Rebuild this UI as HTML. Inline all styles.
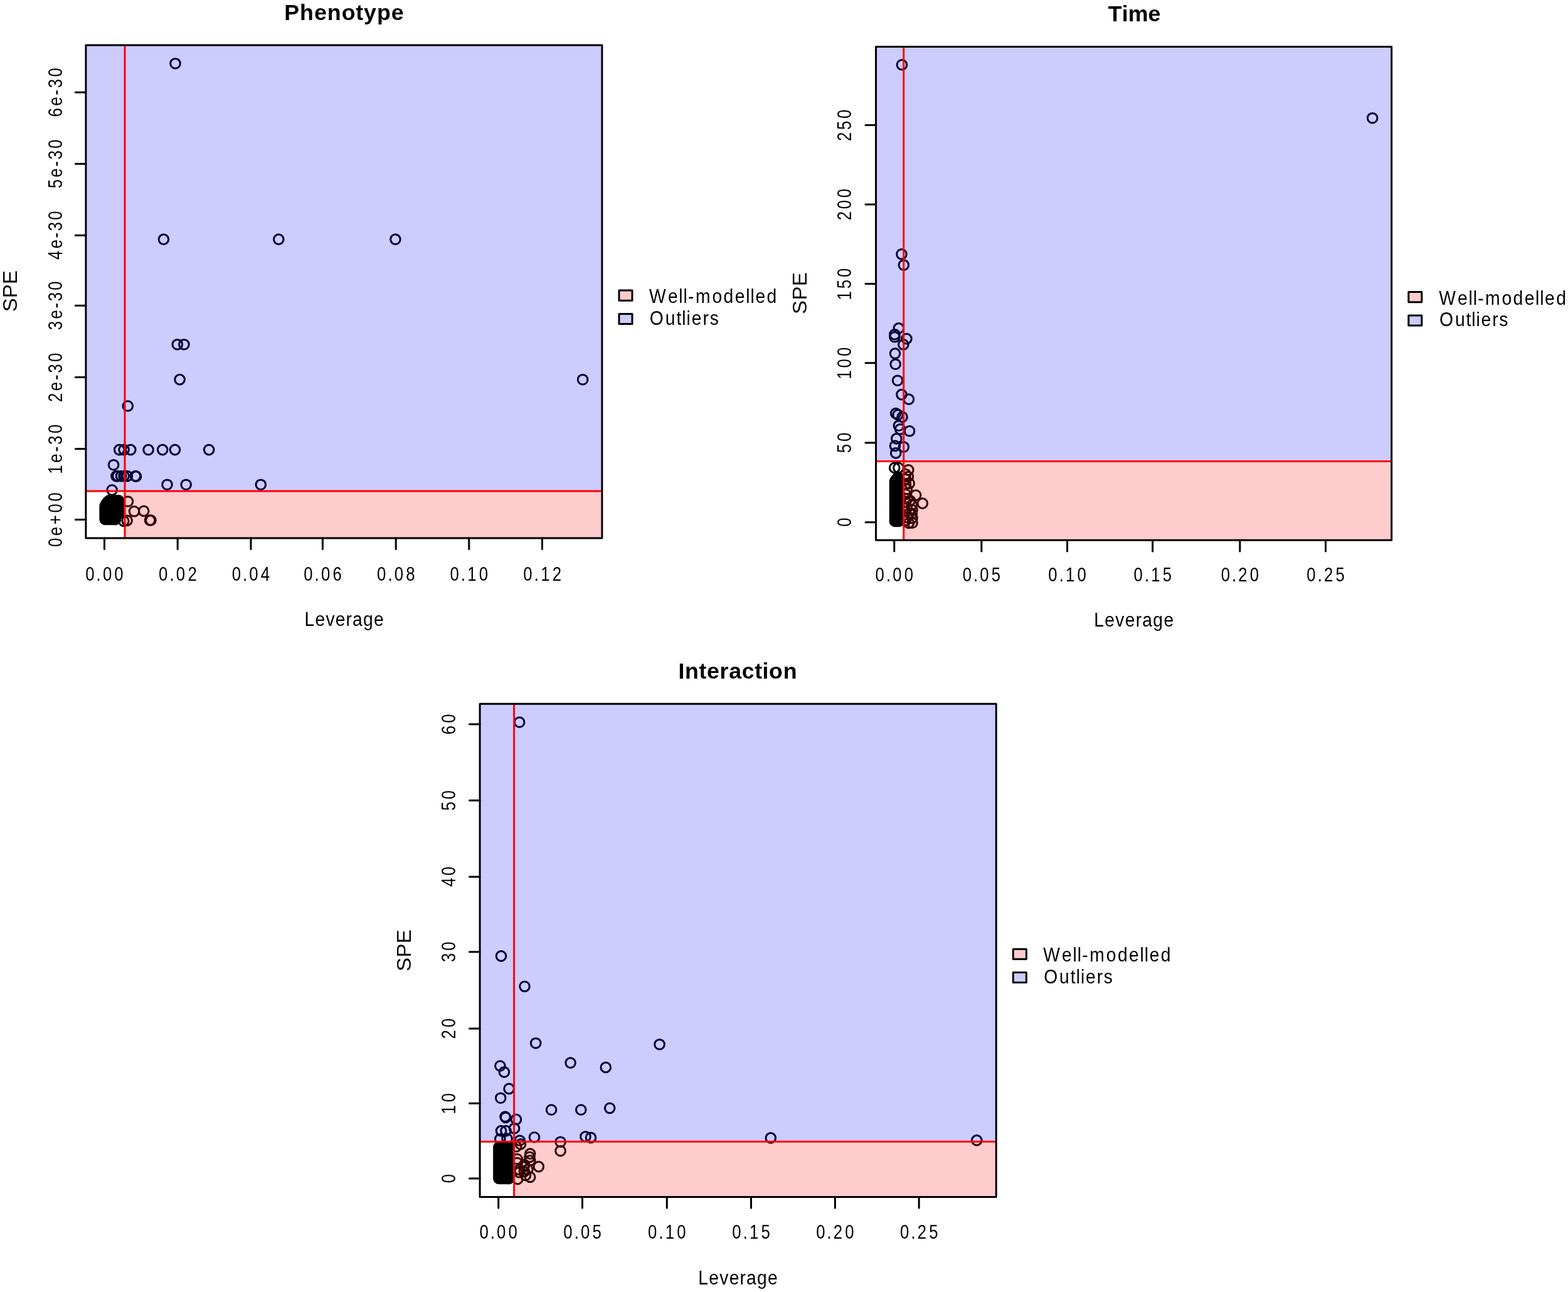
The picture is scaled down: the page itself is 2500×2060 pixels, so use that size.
<!DOCTYPE html><html><head><meta charset="utf-8"><title>SPE vs Leverage diagnostics</title>
<style>html,body{margin:0;padding:0;background:#fff;overflow:hidden;}svg{display:block;}text{font-family:'Liberation Sans', Arial, Helvetica, sans-serif;fill:#000;}</style></head><body>
<svg width="2500" height="2060" viewBox="0 0 2500 2060">
<rect width="2500" height="2060" fill="#fff"/>
<g>
<clipPath id="c0"><rect x="136.9" y="72.1" width="823" height="785.8"/></clipPath>
<g clip-path="url(#c0)">
<g fill="none" stroke="#000" stroke-width="3"><circle cx="279.5" cy="101.2" r="7.8"/><circle cx="260.9" cy="381.6" r="7.8"/><circle cx="444.3" cy="381.6" r="7.8"/><circle cx="630.4" cy="381.6" r="7.8"/><circle cx="282.8" cy="549.2" r="7.8"/><circle cx="293.4" cy="549.2" r="7.8"/><circle cx="286.6" cy="605.1" r="7.8"/><circle cx="929.1" cy="605.2" r="7.8"/><circle cx="203.8" cy="647.3" r="7.8"/><circle cx="190.2" cy="717.1" r="7.8"/><circle cx="197.6" cy="717.1" r="7.8"/><circle cx="208.3" cy="717.1" r="7.8"/><circle cx="236.6" cy="717.1" r="7.8"/><circle cx="259.2" cy="717.1" r="7.8"/><circle cx="279" cy="717.1" r="7.8"/><circle cx="333.2" cy="717.1" r="7.8"/><circle cx="181.1" cy="741.2" r="7.8"/><circle cx="185.5" cy="759.1" r="7.8"/><circle cx="187.5" cy="759.1" r="7.8"/><circle cx="193" cy="759.1" r="7.8"/><circle cx="197.6" cy="759.1" r="7.8"/><circle cx="202.8" cy="759.1" r="7.8"/><circle cx="216" cy="759.1" r="7.8"/><circle cx="217" cy="759.6" r="7.8"/><circle cx="266.5" cy="772.7" r="7.8"/><circle cx="296.7" cy="772.7" r="7.8"/><circle cx="415.8" cy="772.7" r="7.8"/><circle cx="178.6" cy="781.3" r="7.8"/><circle cx="204" cy="799.5" r="7.8"/><circle cx="214" cy="815.3" r="7.8"/><circle cx="229.2" cy="814.8" r="7.8"/><circle cx="238.9" cy="829.5" r="7.8"/><circle cx="240.5" cy="829.5" r="7.8"/><circle cx="197.3" cy="830.8" r="7.8"/><circle cx="202.6" cy="829.9" r="7.8"/><circle cx="174" cy="798" r="7.8"/><circle cx="177" cy="798" r="7.8"/><circle cx="180" cy="798" r="7.8"/><circle cx="183" cy="798" r="7.8"/><circle cx="186" cy="798" r="7.8"/><circle cx="189" cy="798" r="7.8"/><circle cx="171" cy="801" r="7.8"/><circle cx="174" cy="801" r="7.8"/><circle cx="177" cy="801" r="7.8"/><circle cx="180" cy="801" r="7.8"/><circle cx="183" cy="801" r="7.8"/><circle cx="186" cy="801" r="7.8"/><circle cx="189" cy="801" r="7.8"/><circle cx="169" cy="804" r="7.8"/><circle cx="172" cy="804" r="7.8"/><circle cx="175" cy="804" r="7.8"/><circle cx="178" cy="804" r="7.8"/><circle cx="181" cy="804" r="7.8"/><circle cx="184" cy="804" r="7.8"/><circle cx="187" cy="804" r="7.8"/><circle cx="189" cy="804" r="7.8"/><circle cx="167.7" cy="807" r="7.8"/><circle cx="170.7" cy="807" r="7.8"/><circle cx="173.7" cy="807" r="7.8"/><circle cx="176.7" cy="807" r="7.8"/><circle cx="179.7" cy="807" r="7.8"/><circle cx="182.7" cy="807" r="7.8"/><circle cx="185.7" cy="807" r="7.8"/><circle cx="188.7" cy="807" r="7.8"/><circle cx="167.7" cy="810" r="7.8"/><circle cx="170.7" cy="810" r="7.8"/><circle cx="173.7" cy="810" r="7.8"/><circle cx="176.7" cy="810" r="7.8"/><circle cx="179.7" cy="810" r="7.8"/><circle cx="182.7" cy="810" r="7.8"/><circle cx="185.7" cy="810" r="7.8"/><circle cx="188.7" cy="810" r="7.8"/><circle cx="167.7" cy="813" r="7.8"/><circle cx="170.7" cy="813" r="7.8"/><circle cx="173.7" cy="813" r="7.8"/><circle cx="176.7" cy="813" r="7.8"/><circle cx="179.7" cy="813" r="7.8"/><circle cx="182.7" cy="813" r="7.8"/><circle cx="185.7" cy="813" r="7.8"/><circle cx="188.7" cy="813" r="7.8"/><circle cx="167.7" cy="816" r="7.8"/><circle cx="170.7" cy="816" r="7.8"/><circle cx="173.7" cy="816" r="7.8"/><circle cx="176.7" cy="816" r="7.8"/><circle cx="179.7" cy="816" r="7.8"/><circle cx="182.7" cy="816" r="7.8"/><circle cx="185.7" cy="816" r="7.8"/><circle cx="188.7" cy="816" r="7.8"/><circle cx="167.7" cy="819" r="7.8"/><circle cx="170.7" cy="819" r="7.8"/><circle cx="173.7" cy="819" r="7.8"/><circle cx="176.7" cy="819" r="7.8"/><circle cx="179.7" cy="819" r="7.8"/><circle cx="182.7" cy="819" r="7.8"/><circle cx="185.7" cy="819" r="7.8"/><circle cx="188.7" cy="819" r="7.8"/><circle cx="167.7" cy="822" r="7.8"/><circle cx="170.7" cy="822" r="7.8"/><circle cx="173.7" cy="822" r="7.8"/><circle cx="176.7" cy="822" r="7.8"/><circle cx="179.7" cy="822" r="7.8"/><circle cx="182.7" cy="822" r="7.8"/><circle cx="184" cy="822" r="7.8"/><circle cx="167.7" cy="825" r="7.8"/><circle cx="170.7" cy="825" r="7.8"/><circle cx="173.7" cy="825" r="7.8"/><circle cx="176.7" cy="825" r="7.8"/><circle cx="179.7" cy="825" r="7.8"/><circle cx="182.7" cy="825" r="7.8"/><circle cx="184" cy="825" r="7.8"/><circle cx="167.7" cy="828" r="7.8"/><circle cx="170.7" cy="828" r="7.8"/><circle cx="173.7" cy="828" r="7.8"/><circle cx="176.7" cy="828" r="7.8"/><circle cx="179.7" cy="828" r="7.8"/><circle cx="182.7" cy="828" r="7.8"/><circle cx="184" cy="828" r="7.8"/></g>
<rect x="136.9" y="72.1" width="823" height="710.8" fill="#00f" fill-opacity="0.2"/>
<rect x="199" y="782.9" width="760.9" height="75" fill="#f00" fill-opacity="0.2"/>
<path d="M136.9 782.9H959.9M199 72.1V857.9" stroke="#f00" stroke-width="3" fill="none"/>
</g>
<rect x="136.9" y="72.1" width="823" height="785.8" fill="none" stroke="#000" stroke-width="3" stroke-linejoin="round"/>
<path d="M166.45 857.9V875.5M283.2 857.9V875.5M400 857.9V875.5M514.4 857.9V875.5M631.2 857.9V875.5M747.8 857.9V875.5M864.5 857.9V875.5M136.9 828.6H120.3M136.9 715.7H120.3M136.9 601.6H120.3M136.9 487.3H120.3M136.9 375.3H120.3M136.9 261.3H120.3M136.9 147.2H120.3" stroke="#000" stroke-width="3" stroke-linecap="round" fill="none"/>
<rect x="987" y="463.1" width="21" height="16.1" fill="#ffcccc" stroke="#000" stroke-width="3" stroke-linejoin="round"/>
<rect x="987" y="500.4" width="21" height="16.1" fill="#ccccff" stroke="#000" stroke-width="3" stroke-linejoin="round"/>
</g>
<g>
<clipPath id="c1"><rect x="1396.6" y="74.6" width="822.1" height="786.7"/></clipPath>
<g clip-path="url(#c1)">
<g fill="none" stroke="#000" stroke-width="3"><circle cx="1438" cy="103.3" r="7.8"/><circle cx="2188.2" cy="188.2" r="7.8"/><circle cx="1437.5" cy="405.3" r="7.8"/><circle cx="1440.9" cy="422.6" r="7.8"/><circle cx="1432.9" cy="523.4" r="7.8"/><circle cx="1426.5" cy="533.2" r="7.8"/><circle cx="1426.5" cy="537.3" r="7.8"/><circle cx="1445.5" cy="540.1" r="7.8"/><circle cx="1440.4" cy="549.4" r="7.8"/><circle cx="1427.1" cy="563.6" r="7.8"/><circle cx="1427.7" cy="580.7" r="7.8"/><circle cx="1431.1" cy="606.7" r="7.8"/><circle cx="1437.5" cy="629.1" r="7.8"/><circle cx="1449" cy="636.6" r="7.8"/><circle cx="1428.3" cy="659.1" r="7.8"/><circle cx="1431.7" cy="661.4" r="7.8"/><circle cx="1438.6" cy="664.8" r="7.8"/><circle cx="1432.9" cy="678.7" r="7.8"/><circle cx="1435.2" cy="684.4" r="7.8"/><circle cx="1450.1" cy="687.3" r="7.8"/><circle cx="1429.4" cy="699.4" r="7.8"/><circle cx="1427.1" cy="710.9" r="7.8"/><circle cx="1440.9" cy="712.6" r="7.8"/><circle cx="1428.3" cy="722.4" r="7.8"/><circle cx="1426.3" cy="745.9" r="7.8"/><circle cx="1432.5" cy="745.9" r="7.8"/><circle cx="1448.4" cy="749.4" r="7.8"/><circle cx="1449.8" cy="770.8" r="7.8"/><circle cx="1460.2" cy="789.5" r="7.8"/><circle cx="1470.9" cy="802.6" r="7.8"/><circle cx="1453.9" cy="804.7" r="7.8"/><circle cx="1454.6" cy="813" r="7.8"/><circle cx="1453.9" cy="819.2" r="7.8"/><circle cx="1454.6" cy="826.1" r="7.8"/><circle cx="1454.6" cy="833.7" r="7.8"/><circle cx="1448" cy="760" r="7.8"/><circle cx="1446" cy="780" r="7.8"/><circle cx="1447" cy="795" r="7.8"/><circle cx="1446" cy="810" r="7.8"/><circle cx="1446" cy="825" r="7.8"/><circle cx="1444" cy="756" r="7.8"/><circle cx="1444" cy="764" r="7.8"/><circle cx="1444" cy="772" r="7.8"/><circle cx="1444" cy="788" r="7.8"/><circle cx="1444" cy="800" r="7.8"/><circle cx="1444" cy="816" r="7.8"/><circle cx="1444" cy="830" r="7.8"/><circle cx="1449" cy="834" r="7.8"/><circle cx="1450" cy="818" r="7.8"/><circle cx="1451" cy="798" r="7.8"/><circle cx="1431" cy="762" r="7.8"/><circle cx="1433" cy="762" r="7.8"/><circle cx="1428.5" cy="765" r="7.8"/><circle cx="1431.5" cy="765" r="7.8"/><circle cx="1433" cy="765" r="7.8"/><circle cx="1427" cy="768" r="7.8"/><circle cx="1430" cy="768" r="7.8"/><circle cx="1433" cy="768" r="7.8"/><circle cx="1427" cy="771" r="7.8"/><circle cx="1430" cy="771" r="7.8"/><circle cx="1433" cy="771" r="7.8"/><circle cx="1427" cy="774" r="7.8"/><circle cx="1430" cy="774" r="7.8"/><circle cx="1433" cy="774" r="7.8"/><circle cx="1427" cy="777" r="7.8"/><circle cx="1430" cy="777" r="7.8"/><circle cx="1433" cy="777" r="7.8"/><circle cx="1427" cy="780" r="7.8"/><circle cx="1430" cy="780" r="7.8"/><circle cx="1433" cy="780" r="7.8"/><circle cx="1427" cy="783" r="7.8"/><circle cx="1430" cy="783" r="7.8"/><circle cx="1433" cy="783" r="7.8"/><circle cx="1427" cy="786" r="7.8"/><circle cx="1430" cy="786" r="7.8"/><circle cx="1433" cy="786" r="7.8"/><circle cx="1427" cy="789" r="7.8"/><circle cx="1430" cy="789" r="7.8"/><circle cx="1433" cy="789" r="7.8"/><circle cx="1427" cy="792" r="7.8"/><circle cx="1430" cy="792" r="7.8"/><circle cx="1433" cy="792" r="7.8"/><circle cx="1427" cy="795" r="7.8"/><circle cx="1430" cy="795" r="7.8"/><circle cx="1433" cy="795" r="7.8"/><circle cx="1427" cy="798" r="7.8"/><circle cx="1430" cy="798" r="7.8"/><circle cx="1433" cy="798" r="7.8"/><circle cx="1427" cy="801" r="7.8"/><circle cx="1430" cy="801" r="7.8"/><circle cx="1433" cy="801" r="7.8"/><circle cx="1427" cy="804" r="7.8"/><circle cx="1430" cy="804" r="7.8"/><circle cx="1433" cy="804" r="7.8"/><circle cx="1427" cy="807" r="7.8"/><circle cx="1430" cy="807" r="7.8"/><circle cx="1433" cy="807" r="7.8"/><circle cx="1427" cy="810" r="7.8"/><circle cx="1430" cy="810" r="7.8"/><circle cx="1433" cy="810" r="7.8"/><circle cx="1427" cy="813" r="7.8"/><circle cx="1430" cy="813" r="7.8"/><circle cx="1433" cy="813" r="7.8"/><circle cx="1427" cy="816" r="7.8"/><circle cx="1430" cy="816" r="7.8"/><circle cx="1433" cy="816" r="7.8"/><circle cx="1427" cy="819" r="7.8"/><circle cx="1430" cy="819" r="7.8"/><circle cx="1433" cy="819" r="7.8"/><circle cx="1427" cy="822" r="7.8"/><circle cx="1430" cy="822" r="7.8"/><circle cx="1433" cy="822" r="7.8"/><circle cx="1427" cy="825" r="7.8"/><circle cx="1430" cy="825" r="7.8"/><circle cx="1433" cy="825" r="7.8"/><circle cx="1427" cy="828" r="7.8"/><circle cx="1430" cy="828" r="7.8"/><circle cx="1433" cy="828" r="7.8"/><circle cx="1427" cy="831" r="7.8"/><circle cx="1430" cy="831" r="7.8"/><circle cx="1433" cy="831" r="7.8"/></g>
<rect x="1396.6" y="74.6" width="822.1" height="660.8" fill="#00f" fill-opacity="0.2"/>
<rect x="1440.8" y="735.4" width="777.9" height="125.9" fill="#f00" fill-opacity="0.2"/>
<path d="M1396.6 735.4H2218.7M1440.8 74.6V861.3" stroke="#f00" stroke-width="3" fill="none"/>
</g>
<rect x="1396.6" y="74.6" width="822.1" height="786.7" fill="none" stroke="#000" stroke-width="3" stroke-linejoin="round"/>
<path d="M1425.8 861.3V878.9M1564.9 861.3V878.9M1701.6 861.3V878.9M1837.7 861.3V878.9M1976.9 861.3V878.9M2113.6 861.3V878.9M1396.6 832.7H1380M1396.6 706H1380M1396.6 578.7H1380M1396.6 452.6H1380M1396.6 325.9H1380M1396.6 199.6H1380" stroke="#000" stroke-width="3" stroke-linecap="round" fill="none"/>
<rect x="2245.8" y="465.6" width="21" height="16.1" fill="#ffcccc" stroke="#000" stroke-width="3" stroke-linejoin="round"/>
<rect x="2245.8" y="502.9" width="21" height="16.1" fill="#ccccff" stroke="#000" stroke-width="3" stroke-linejoin="round"/>
</g>
<g>
<clipPath id="c2"><rect x="765.1" y="1122.2" width="823.2" height="786.3"/></clipPath>
<g clip-path="url(#c2)">
<g fill="none" stroke="#000" stroke-width="3"><circle cx="828.2" cy="1151.5" r="7.8"/><circle cx="799" cy="1524.4" r="7.8"/><circle cx="836.5" cy="1572.8" r="7.8"/><circle cx="854.2" cy="1663.2" r="7.8"/><circle cx="1051.6" cy="1665.2" r="7.8"/><circle cx="909.6" cy="1694.6" r="7.8"/><circle cx="965.8" cy="1701.9" r="7.8"/><circle cx="797.4" cy="1699.5" r="7.8"/><circle cx="803.9" cy="1709.4" r="7.8"/><circle cx="811.6" cy="1735.9" r="7.8"/><circle cx="798.2" cy="1750.7" r="7.8"/><circle cx="879.1" cy="1769.5" r="7.8"/><circle cx="926.3" cy="1769.5" r="7.8"/><circle cx="972.2" cy="1766.8" r="7.8"/><circle cx="806.2" cy="1781.8" r="7.8"/><circle cx="805.5" cy="1780.5" r="7.8"/><circle cx="823" cy="1784.9" r="7.8"/><circle cx="799" cy="1803.1" r="7.8"/><circle cx="806.5" cy="1803.1" r="7.8"/><circle cx="820.1" cy="1799.1" r="7.8"/><circle cx="852" cy="1813.3" r="7.8"/><circle cx="933.5" cy="1812.2" r="7.8"/><circle cx="942" cy="1813.9" r="7.8"/><circle cx="828.7" cy="1818.5" r="7.8"/><circle cx="893.6" cy="1820.7" r="7.8"/><circle cx="797.3" cy="1816.2" r="7.8"/><circle cx="1228.8" cy="1814.4" r="7.8"/><circle cx="1557.3" cy="1818.1" r="7.8"/><circle cx="893.6" cy="1835" r="7.8"/><circle cx="830" cy="1824.4" r="7.8"/><circle cx="845.2" cy="1839.6" r="7.8"/><circle cx="844.4" cy="1844.9" r="7.8"/><circle cx="845.2" cy="1850.2" r="7.8"/><circle cx="858.8" cy="1860.1" r="7.8"/><circle cx="824.7" cy="1848" r="7.8"/><circle cx="824.7" cy="1854" r="7.8"/><circle cx="836" cy="1857.1" r="7.8"/><circle cx="825.4" cy="1879.9" r="7.8"/><circle cx="845.2" cy="1876.8" r="7.8"/><circle cx="827.7" cy="1869.2" r="7.8"/><circle cx="841.4" cy="1864.7" r="7.8"/><circle cx="823.2" cy="1828.2" r="7.8"/><circle cx="808.5" cy="1815.5" r="7.8"/><circle cx="828" cy="1865" r="7.8"/><circle cx="836" cy="1868" r="7.8"/><circle cx="838" cy="1874" r="7.8"/><circle cx="835.3" cy="1860.5" r="7.8"/><circle cx="795.5" cy="1829" r="7.8"/><circle cx="798.5" cy="1829" r="7.8"/><circle cx="801.5" cy="1829" r="7.8"/><circle cx="804.5" cy="1829" r="7.8"/><circle cx="807.5" cy="1829" r="7.8"/><circle cx="810.5" cy="1829" r="7.8"/><circle cx="811.5" cy="1829" r="7.8"/><circle cx="795.5" cy="1832" r="7.8"/><circle cx="798.5" cy="1832" r="7.8"/><circle cx="801.5" cy="1832" r="7.8"/><circle cx="804.5" cy="1832" r="7.8"/><circle cx="807.5" cy="1832" r="7.8"/><circle cx="810.5" cy="1832" r="7.8"/><circle cx="811.5" cy="1832" r="7.8"/><circle cx="795.5" cy="1835" r="7.8"/><circle cx="798.5" cy="1835" r="7.8"/><circle cx="801.5" cy="1835" r="7.8"/><circle cx="804.5" cy="1835" r="7.8"/><circle cx="807.5" cy="1835" r="7.8"/><circle cx="810.5" cy="1835" r="7.8"/><circle cx="811.5" cy="1835" r="7.8"/><circle cx="795.5" cy="1838" r="7.8"/><circle cx="798.5" cy="1838" r="7.8"/><circle cx="801.5" cy="1838" r="7.8"/><circle cx="804.5" cy="1838" r="7.8"/><circle cx="807.5" cy="1838" r="7.8"/><circle cx="810.5" cy="1838" r="7.8"/><circle cx="811.5" cy="1838" r="7.8"/><circle cx="795.5" cy="1841" r="7.8"/><circle cx="798.5" cy="1841" r="7.8"/><circle cx="801.5" cy="1841" r="7.8"/><circle cx="804.5" cy="1841" r="7.8"/><circle cx="807.5" cy="1841" r="7.8"/><circle cx="810.5" cy="1841" r="7.8"/><circle cx="811.5" cy="1841" r="7.8"/><circle cx="795.5" cy="1844" r="7.8"/><circle cx="798.5" cy="1844" r="7.8"/><circle cx="801.5" cy="1844" r="7.8"/><circle cx="804.5" cy="1844" r="7.8"/><circle cx="807.5" cy="1844" r="7.8"/><circle cx="810.5" cy="1844" r="7.8"/><circle cx="811.5" cy="1844" r="7.8"/><circle cx="795.5" cy="1847" r="7.8"/><circle cx="798.5" cy="1847" r="7.8"/><circle cx="801.5" cy="1847" r="7.8"/><circle cx="804.5" cy="1847" r="7.8"/><circle cx="807.5" cy="1847" r="7.8"/><circle cx="810.5" cy="1847" r="7.8"/><circle cx="811.5" cy="1847" r="7.8"/><circle cx="795.5" cy="1850" r="7.8"/><circle cx="798.5" cy="1850" r="7.8"/><circle cx="801.5" cy="1850" r="7.8"/><circle cx="804.5" cy="1850" r="7.8"/><circle cx="807.5" cy="1850" r="7.8"/><circle cx="810.5" cy="1850" r="7.8"/><circle cx="811.5" cy="1850" r="7.8"/><circle cx="795.5" cy="1853" r="7.8"/><circle cx="798.5" cy="1853" r="7.8"/><circle cx="801.5" cy="1853" r="7.8"/><circle cx="804.5" cy="1853" r="7.8"/><circle cx="807.5" cy="1853" r="7.8"/><circle cx="810.5" cy="1853" r="7.8"/><circle cx="811.5" cy="1853" r="7.8"/><circle cx="795.5" cy="1856" r="7.8"/><circle cx="798.5" cy="1856" r="7.8"/><circle cx="801.5" cy="1856" r="7.8"/><circle cx="804.5" cy="1856" r="7.8"/><circle cx="807.5" cy="1856" r="7.8"/><circle cx="810.5" cy="1856" r="7.8"/><circle cx="811.5" cy="1856" r="7.8"/><circle cx="795.5" cy="1859" r="7.8"/><circle cx="798.5" cy="1859" r="7.8"/><circle cx="801.5" cy="1859" r="7.8"/><circle cx="804.5" cy="1859" r="7.8"/><circle cx="807.5" cy="1859" r="7.8"/><circle cx="810.5" cy="1859" r="7.8"/><circle cx="811.5" cy="1859" r="7.8"/><circle cx="795.5" cy="1862" r="7.8"/><circle cx="798.5" cy="1862" r="7.8"/><circle cx="801.5" cy="1862" r="7.8"/><circle cx="804.5" cy="1862" r="7.8"/><circle cx="807.5" cy="1862" r="7.8"/><circle cx="810.5" cy="1862" r="7.8"/><circle cx="811.5" cy="1862" r="7.8"/><circle cx="795.5" cy="1865" r="7.8"/><circle cx="798.5" cy="1865" r="7.8"/><circle cx="801.5" cy="1865" r="7.8"/><circle cx="804.5" cy="1865" r="7.8"/><circle cx="807.5" cy="1865" r="7.8"/><circle cx="810.5" cy="1865" r="7.8"/><circle cx="811.5" cy="1865" r="7.8"/><circle cx="795.5" cy="1868" r="7.8"/><circle cx="798.5" cy="1868" r="7.8"/><circle cx="801.5" cy="1868" r="7.8"/><circle cx="804.5" cy="1868" r="7.8"/><circle cx="807.5" cy="1868" r="7.8"/><circle cx="810.5" cy="1868" r="7.8"/><circle cx="811.5" cy="1868" r="7.8"/><circle cx="795.5" cy="1871" r="7.8"/><circle cx="798.5" cy="1871" r="7.8"/><circle cx="801.5" cy="1871" r="7.8"/><circle cx="804.5" cy="1871" r="7.8"/><circle cx="807.5" cy="1871" r="7.8"/><circle cx="810.5" cy="1871" r="7.8"/><circle cx="811.5" cy="1871" r="7.8"/><circle cx="795.5" cy="1874" r="7.8"/><circle cx="798.5" cy="1874" r="7.8"/><circle cx="801.5" cy="1874" r="7.8"/><circle cx="804.5" cy="1874" r="7.8"/><circle cx="807.5" cy="1874" r="7.8"/><circle cx="810.5" cy="1874" r="7.8"/><circle cx="811.5" cy="1874" r="7.8"/><circle cx="795.5" cy="1877" r="7.8"/><circle cx="798.5" cy="1877" r="7.8"/><circle cx="801.5" cy="1877" r="7.8"/><circle cx="804.5" cy="1877" r="7.8"/><circle cx="807.5" cy="1877" r="7.8"/><circle cx="810.5" cy="1877" r="7.8"/><circle cx="811.5" cy="1877" r="7.8"/><circle cx="795.5" cy="1879" r="7.8"/><circle cx="798.5" cy="1879" r="7.8"/><circle cx="801.5" cy="1879" r="7.8"/><circle cx="804.5" cy="1879" r="7.8"/><circle cx="807.5" cy="1879" r="7.8"/><circle cx="810.5" cy="1879" r="7.8"/><circle cx="811.5" cy="1879" r="7.8"/></g>
<rect x="765.1" y="1122.2" width="823.2" height="698" fill="#00f" fill-opacity="0.2"/>
<rect x="819.6" y="1820.2" width="768.7" height="88.3" fill="#f00" fill-opacity="0.2"/>
<path d="M765.1 1820.2H1588.3M819.6 1122.2V1908.5" stroke="#f00" stroke-width="3" fill="none"/>
</g>
<rect x="765.1" y="1122.2" width="823.2" height="786.3" fill="none" stroke="#000" stroke-width="3" stroke-linejoin="round"/>
<path d="M794.7 1908.5V1926.1M928.5 1908.5V1926.1M1063.3 1908.5V1926.1M1197.5 1908.5V1926.1M1331.4 1908.5V1926.1M1465.2 1908.5V1926.1M765.1 1879H748.5M765.1 1759.2H748.5M765.1 1639.9H748.5M765.1 1517.7H748.5M765.1 1398H748.5M765.1 1276.3H748.5M765.1 1154.7H748.5" stroke="#000" stroke-width="3" stroke-linecap="round" fill="none"/>
<rect x="1615.4" y="1513.2" width="21" height="16.1" fill="#ffcccc" stroke="#000" stroke-width="3" stroke-linejoin="round"/>
<rect x="1615.4" y="1550.5" width="21" height="16.1" fill="#ccccff" stroke="#000" stroke-width="3" stroke-linejoin="round"/>
</g>
<text transform="translate(0 31.7) scale(1 1)" x="453.21 478.12 500.95 521.82 544.7 567.35 580 600.9 623.71" font-size="35.8" font-weight="bold">Phenotype</text>
<text transform="translate(0 925.9) scale(0.82 1)" x="166.09 187.35 199.85 222.37" font-size="31.5">0.00</text>
<text transform="translate(0 925.9) scale(0.82 1)" x="308.46 329.84 342.44 365.1" font-size="31.5">0.02</text>
<text transform="translate(0 925.9) scale(0.82 1)" x="450.9 472.09 484.5 506.88" font-size="31.5">0.04</text>
<text transform="translate(0 925.9) scale(0.82 1)" x="590.42 611.72 624.26 646.85" font-size="31.5">0.06</text>
<text transform="translate(0 925.9) scale(0.82 1)" x="732.85 754.16 766.7 789.28" font-size="31.5">0.08</text>
<text transform="translate(0 925.9) scale(0.82 1)" x="875.05 896.32 908.94 931.33" font-size="31.5">0.10</text>
<text transform="translate(0 925.9) scale(0.82 1)" x="1017.37 1038.74 1051.47 1074" font-size="31.5">0.12</text>
<text transform="translate(0 997.6) scale(0.9 1)" x="539.42 558.26 577.1 594.17 612.86 624.45 643.28 662.21" font-size="31.5">Leverage</text>
<text transform="translate(98.7 871.1) rotate(-90) scale(0.82 1)" x="-1.23 20.64 42.63 65.49 87.37" font-size="31.5">0e+00</text>
<text transform="translate(98.7 753.7) rotate(-90) scale(0.82 1)" x="-2.4 19.41 40.46 54.45 76.39" font-size="31.5">1e-30</text>
<text transform="translate(98.7 639.6) rotate(-90) scale(0.82 1)" x="-1.58 20.08 40.92 54.7 76.39" font-size="31.5">2e-30</text>
<text transform="translate(98.7 525.3) rotate(-90) scale(0.82 1)" x="-1.2 20.37 41.12 54.82 76.39" font-size="31.5">3e-30</text>
<text transform="translate(98.7 413.3) rotate(-90) scale(0.82 1)" x="-0.72 20.72 41.36 54.95 76.39" font-size="31.5">4e-30</text>
<text transform="translate(98.7 299.3) rotate(-90) scale(0.82 1)" x="-1.26 20.32 41.08 54.8 76.39" font-size="31.5">5e-30</text>
<text transform="translate(98.7 185.2) rotate(-90) scale(0.82 1)" x="-1.6 20.05 40.9 54.69 76.39" font-size="31.5">6e-30</text>
<text transform="translate(26.6 495.8) rotate(-90) scale(1.05 1)" x="-1.43 19.55 40.53" font-size="31.5">SPE</text>
<text transform="translate(0 483.2) scale(0.9 1)" x="1149.97 1183.23 1202.59 1210.64 1218.94 1232.18 1261.69 1281.78 1301.97 1321.33 1329.37 1338.2 1358.29" font-size="31.5">Well-modelled</text>
<text transform="translate(0 518.4) scale(0.9 1)" x="1150.84 1178.62 1198.21 1208.17 1216.26 1225.16 1244.99 1257.39" font-size="31.5">Outliers</text>
<text transform="translate(0 34.2) scale(1 1)" x="1766.8 1788.71 1798.71 1830.61" font-size="35.8" font-weight="bold">Time</text>
<text transform="translate(0 926.9) scale(0.82 1)" x="1701.88 1723.15 1735.65 1758.16" font-size="31.5">0.00</text>
<text transform="translate(0 926.9) scale(0.82 1)" x="1871.51 1892.81 1905.34 1927.89" font-size="31.5">0.05</text>
<text transform="translate(0 926.9) scale(0.82 1)" x="2038.22 2059.49 2072.11 2094.5" font-size="31.5">0.10</text>
<text transform="translate(0 926.9) scale(0.82 1)" x="2204.2 2225.49 2238.15 2260.57" font-size="31.5">0.15</text>
<text transform="translate(0 926.9) scale(0.82 1)" x="2373.95 2395.22 2407.72 2430.24" font-size="31.5">0.20</text>
<text transform="translate(0 926.9) scale(0.82 1)" x="2540.66 2561.96 2574.49 2597.04" font-size="31.5">0.25</text>
<text transform="translate(0 999.3) scale(0.9 1)" x="1937.97 1956.93 1975.89 1993.07 2011.86 2023.55 2042.49 2061.55" font-size="31.5">Leverage</text>
<text transform="translate(1357.4 838.87) rotate(-90) scale(0.82 1)" x="-1.23" font-size="31.5">0</text>
<text transform="translate(1357.4 721.25) rotate(-90) scale(0.82 1)" x="-1.26 20.91" font-size="31.5">50</text>
<text transform="translate(1357.4 602.7) rotate(-90) scale(0.82 1)" x="-2.4 19.86 42.25" font-size="31.5">100</text>
<text transform="translate(1357.4 476.6) rotate(-90) scale(0.82 1)" x="-2.4 19.86 42.25" font-size="31.5">150</text>
<text transform="translate(1357.4 349.9) rotate(-90) scale(0.82 1)" x="-1.58 20.33 42.25" font-size="31.5">200</text>
<text transform="translate(1357.4 223.6) rotate(-90) scale(0.82 1)" x="-1.58 20.32 42.25" font-size="31.5">250</text>
<text transform="translate(1286.4 499.5) rotate(-90) scale(1.05 1)" x="-1.43 19.94 41.3" font-size="31.5">SPE</text>
<text transform="translate(0 485.8) scale(0.9 1)" x="2549.19 2582.36 2601.68 2609.7 2617.97 2631.14 2660.57 2680.59 2700.71 2720.02 2728.04 2736.82 2756.84" font-size="31.5">Well-modelled</text>
<text transform="translate(0 520.4) scale(0.9 1)" x="2550.06 2577.66 2597.13 2607.02 2615.05 2623.85 2643.55 2655.83" font-size="31.5">Outliers</text>
<text transform="translate(0 1081.6) scale(1 1)" x="1081.51 1092.04 1114.52 1127.03 1147.58 1162.13 1182.75 1203.23 1215.55 1226.08 1248.75" font-size="35.8" font-weight="bold">Interaction</text>
<text transform="translate(0 1975) scale(0.82 1)" x="932.25 953.51 966.01 988.53" font-size="31.5">0.00</text>
<text transform="translate(0 1975) scale(0.82 1)" x="1095.42 1116.71 1129.24 1151.79" font-size="31.5">0.05</text>
<text transform="translate(0 1975) scale(0.82 1)" x="1259.81 1281.07 1293.7 1316.09" font-size="31.5">0.10</text>
<text transform="translate(0 1975) scale(0.82 1)" x="1423.46 1444.76 1457.42 1479.84" font-size="31.5">0.15</text>
<text transform="translate(0 1975) scale(0.82 1)" x="1586.76 1608.02 1620.52 1643.04" font-size="31.5">0.20</text>
<text transform="translate(0 1975) scale(0.82 1)" x="1749.93 1771.23 1783.75 1806.3" font-size="31.5">0.25</text>
<text transform="translate(0 2047.8) scale(0.9 1)" x="1236.97 1255.85 1274.72 1291.82 1310.55 1322.16 1341.02 1359.99" font-size="31.5">Leverage</text>
<text transform="translate(726.3 1885.17) rotate(-90) scale(0.82 1)" x="-1.23" font-size="31.5">0</text>
<text transform="translate(726.3 1774.45) rotate(-90) scale(0.82 1)" x="-2.4 20.91" font-size="31.5">10</text>
<text transform="translate(726.3 1655.15) rotate(-90) scale(0.82 1)" x="-1.58 20.91" font-size="31.5">20</text>
<text transform="translate(726.3 1532.95) rotate(-90) scale(0.82 1)" x="-1.2 20.91" font-size="31.5">30</text>
<text transform="translate(726.3 1413.25) rotate(-90) scale(0.82 1)" x="-0.72 20.91" font-size="31.5">40</text>
<text transform="translate(726.3 1291.55) rotate(-90) scale(0.82 1)" x="-1.26 20.91" font-size="31.5">50</text>
<text transform="translate(726.3 1169.95) rotate(-90) scale(0.82 1)" x="-1.6 20.91" font-size="31.5">60</text>
<text transform="translate(655.1 1547.2) rotate(-90) scale(1.05 1)" x="-1.43 19.7 40.82" font-size="31.5">SPE</text>
<text transform="translate(0 1533.4) scale(0.9 1)" x="1847.97 1881.26 1900.64 1908.69 1917.01 1930.27 1959.81 1979.92 2000.13 2019.5 2027.56 2036.4 2056.51" font-size="31.5">Well-modelled</text>
<text transform="translate(0 1568) scale(0.9 1)" x="1849.06 1876.79 1896.34 1906.29 1914.36 1923.23 1943.03 1955.39" font-size="31.5">Outliers</text>
</svg></body></html>
